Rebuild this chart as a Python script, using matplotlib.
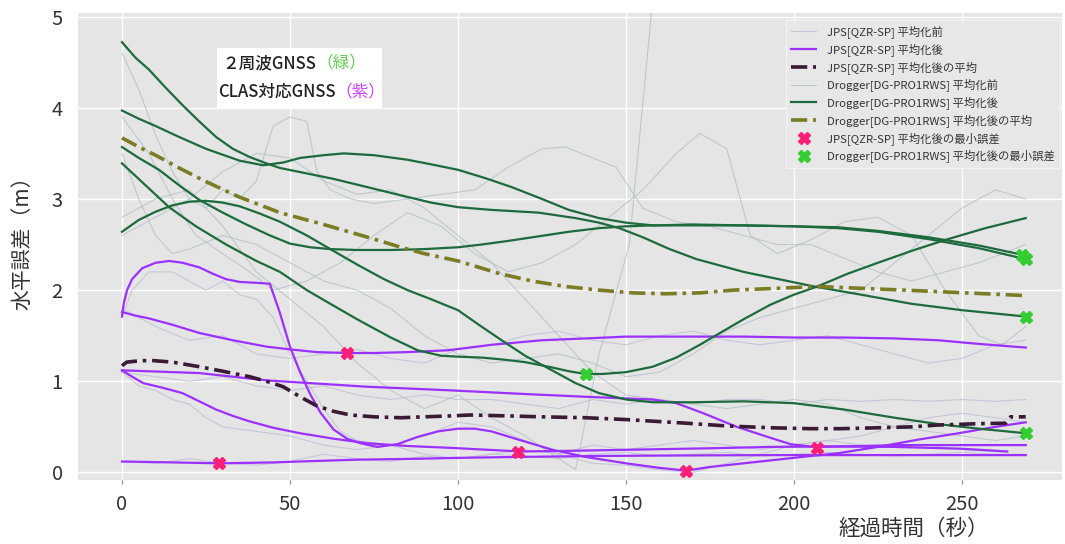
import matplotlib
matplotlib.use("Agg")
import matplotlib.pyplot as plt

# ---------------- data ----------------
# JPS[QZR-SP] raw (平均化前)
jps_raw = [
    ([0,3,8,15,20,25,30,35,40,45,50,55,60,65,70,80,90,100,110,120,130,140,150,160,170,180,190,200,210,220,230,240,250,260,269],
     [1.7,2.0,2.2,2.2,2.1,2.0,2.1,1.95,1.9,1.7,1.3,1.0,0.7,0.45,0.35,0.3,0.4,0.55,0.5,0.35,0.2,0.1,0.08,0.03,0.0,0.1,0.2,0.3,0.35,0.4,0.5,0.6,0.65,0.6,0.55]),
    ([0,10,20,30,40,50,60,70,80,90,100,110,120,130,140,150,160,170,180,190,200,210,220,230,240,250,260,269],
     [1.8,1.6,1.45,1.5,1.3,1.25,1.3,1.35,1.25,1.2,1.35,1.4,1.5,1.55,1.45,1.4,1.5,1.55,1.45,1.4,1.45,1.5,1.4,1.3,1.2,1.25,1.4,1.45]),
    ([0,10,20,30,40,50,60,70,80,90,100,110,120,130,140,150,160,170,180,190,200,210,220,230,240,250,260,269],
     [1.1,1.05,1.0,1.05,0.95,0.9,0.95,0.85,0.8,0.85,0.8,0.8,0.75,0.7,0.8,0.75,0.8,0.75,0.8,0.8,0.75,0.8,0.78,0.8,0.78,0.8,0.78,0.8]),
    ([0,5,10,15,20,25,30,40,50,60,70,80,90,100,110,120,130,140,150,160,170,180,190,200,210,220,230,240,250,263],
     [1.1,0.95,0.9,0.8,0.75,0.6,0.5,0.45,0.4,0.3,0.25,0.3,0.2,0.15,0.2,0.25,0.2,0.3,0.25,0.3,0.35,0.3,0.25,0.3,0.35,0.3,0.28,0.3,0.25,0.22]),
    ([0,10,20,30,40,50,60,70,80,90,100,110,120,130,140,150,160,170,180,190,200,210,220,230,240,250,260,269],
     [0.12,0.1,0.15,0.1,0.08,0.12,0.2,0.15,0.12,0.18,0.15,0.2,0.18,0.15,0.2,0.22,0.18,0.2,0.22,0.18,0.2,0.22,0.2,0.18,0.2,0.22,0.2,0.2]),
]

# Drogger[DG-PRO1RWS] raw (平均化前)
drg_raw = [
    ([0,5,10,15,20,25,30,35,40,45,50,55,58,62,68,75,85,95,105,115,125,132,140,147,155,165,175,185,195,205,215,225,235,245,255,262,269],
     [4.6,4.2,3.7,3.3,3.0,2.9,3.1,3.0,3.2,3.8,3.9,3.85,3.3,3.1,3.0,2.95,3.0,3.05,3.1,3.35,3.55,3.57,3.45,3.35,2.9,2.75,2.7,2.6,2.5,2.5,2.35,2.2,2.1,2.2,2.3,2.4,2.5]),
    ([0,8,15,22,30,38,45,55,65,75,85,95,105,115,125,135,145,155,165,172,180,187,195,205,215,225,235,245,255,262,269],
     [3.9,3.5,3.0,2.6,2.4,2.2,2.0,2.1,2.3,2.6,2.85,2.7,2.4,2.2,2.3,2.5,2.8,3.1,3.5,3.72,3.55,2.6,2.4,2.55,2.75,2.8,2.6,2.0,1.5,1.4,1.6]),
    ([0,10,20,30,40,50,60,70,80,90,100,110,120,130,135,142,151,158,160],
     [2.8,3.0,3.1,2.7,2.2,1.9,1.6,1.2,0.9,0.7,0.85,0.6,0.4,0.15,0.03,1.3,2.5,5.2,5.8]),
    ([0,5,10,15,20,30,40,50,60,70,80,90,100,110,120,130,140,150,160,170,180,190,200,210,220,230,240,250,260,269],
     [3.5,3.0,2.6,2.4,2.45,2.6,2.5,2.3,2.1,2.0,1.8,1.5,1.3,1.2,1.25,1.3,1.2,1.05,1.1,1.3,1.55,1.7,1.8,1.9,2.0,2.3,2.6,2.9,3.1,3.0]),
    ([0,10,20,30,40,50,60,70,80,90,100,110,120,130,140,150,160,170,180,190,200,210,220,230,240,250,260,269],
     [2.6,2.8,3.0,3.3,3.5,3.45,3.2,3.05,3.1,2.9,2.6,2.3,1.9,1.5,1.1,0.85,0.8,0.75,0.7,0.75,0.8,0.75,0.6,0.5,0.45,0.4,0.35,0.4]),
]

# JPS[QZR-SP] 平均化後
jps_x1 = [0,0.5,1.5,3,6,10,14,18,23,27,31,35,40,44,47,50,53,56,59,63,67,71,76,82,88,94,100,105,110,118,128,138,150,160,168,175,185,195,205,213,225,237,249,260,269]
jps_y1 = [1.71,1.85,2.0,2.12,2.24,2.3,2.32,2.3,2.25,2.18,2.12,2.09,2.08,2.07,1.75,1.38,1.1,0.86,0.66,0.47,0.37,0.32,0.28,0.31,0.39,0.45,0.48,0.48,0.45,0.36,0.25,0.17,0.1,0.05,0.02,0.06,0.1,0.14,0.18,0.21,0.28,0.36,0.43,0.5,0.55]
jps_x2 = [0,4,8,15,23,33,43,50,58,67,75,85,97,110,125,138,150,168,185,200,215,230,243,255,269]
jps_y2 = [1.76,1.72,1.69,1.62,1.53,1.45,1.38,1.35,1.32,1.31,1.31,1.32,1.34,1.4,1.45,1.47,1.49,1.49,1.49,1.48,1.48,1.47,1.45,1.41,1.37]
jps_x3 = [0,23,43,73,98,120,138,158,165,173,183,193,199,206,220,231,250,269]
jps_y3 = [1.12,1.09,1.01,0.94,0.90,0.86,0.83,0.80,0.76,0.65,0.5,0.38,0.31,0.28,0.29,0.30,0.30,0.30]
jps_x4 = [0,3,6.3,12,18,23,28,33,38,45,53,63,73,85,97.6,108,118.5,130,145,160,175,193,210,230,250,263.5]
jps_y4 = [1.12,1.05,0.98,0.93,0.87,0.78,0.69,0.62,0.56,0.49,0.43,0.37,0.32,0.29,0.27,0.25,0.23,0.235,0.245,0.255,0.265,0.28,0.285,0.28,0.26,0.23]
jps_x5 = [0,15,29,45,53,70,88,100,118,140,160,193,220,245,269]
jps_y5 = [0.12,0.11,0.10,0.11,0.12,0.14,0.15,0.16,0.17,0.18,0.185,0.19,0.19,0.19,0.19]

# JPS 平均化後の平均
jps_avg_x = [0,1.4,4,8.3,15,23,30,38,43,48,53,58,63,68,75,83,90,97.6,103.6,115,125,138,150,168,180,193,205,214,225,235,243,255,263,264.5,269]
jps_avg_y = [1.17,1.21,1.22,1.23,1.21,1.16,1.11,1.05,1.0,0.94,0.83,0.73,0.67,0.63,0.61,0.60,0.61,0.62,0.63,0.62,0.61,0.60,0.58,0.54,0.51,0.49,0.48,0.48,0.49,0.5,0.52,0.535,0.54,0.61,0.61]

# Drogger 平均化後
drg_xA = [0,4,8,13,18,23,28,33,38,43,47,55,63,73,83,92,100,110,124,135,142,148,155,163,171,185,206,220,235,250,269]
drg_yA = [4.72,4.55,4.42,4.22,4.03,3.85,3.68,3.55,3.46,3.39,3.34,3.28,3.22,3.13,3.04,2.96,2.91,2.88,2.85,2.79,2.74,2.68,2.58,2.45,2.34,2.2,2.04,1.95,1.85,1.78,1.71]
drg_xB = [0,5,10,17,25,35,42,48,53,60,66,75,85,92,100,108,116,125,133,142,150,158,170,185,200,213,225,240,255,269]
drg_yB = [3.97,3.88,3.8,3.68,3.55,3.42,3.37,3.4,3.45,3.48,3.5,3.48,3.43,3.38,3.32,3.23,3.13,3.0,2.88,2.79,2.74,2.71,2.71,2.71,2.7,2.69,2.65,2.58,2.49,2.38]
drg_xF = [0,5,11,17,23,30,37,44,50,56,62,70,80,90,100,107,115,124,133,142,150,158,170,185,200,213,225,240,255,269]
drg_yF = [3.57,3.45,3.32,3.15,2.99,2.85,2.72,2.6,2.51,2.47,2.45,2.44,2.44,2.45,2.47,2.5,2.54,2.59,2.64,2.68,2.70,2.71,2.72,2.71,2.7,2.68,2.64,2.56,2.46,2.34]
drg_xD = [0,7,14,22,31,40,47,55,62,70,80,88,95,100,107,113,120,127,133,138,143,150,158,165,172,178,185,193,200,207,216,225,235,245,257,269]
drg_yD = [3.39,3.15,2.91,2.7,2.5,2.32,2.2,2.0,1.85,1.68,1.48,1.34,1.28,1.27,1.26,1.24,1.21,1.16,1.11,1.08,1.08,1.1,1.16,1.26,1.4,1.53,1.68,1.84,1.95,2.04,2.18,2.3,2.43,2.55,2.68,2.79]
drg_xC = [0,5,10,15,20,25,30,35,41,47,55,62,70,78,85,92,100,107,113,120,128,135,142,150,158,170,185,200,215,230,243,255,269]
drg_yC = [2.64,2.77,2.86,2.93,2.97,2.98,2.96,2.92,2.84,2.75,2.6,2.45,2.28,2.12,2.0,1.9,1.78,1.6,1.45,1.28,1.12,0.98,0.87,0.8,0.77,0.77,0.78,0.76,0.69,0.6,0.53,0.48,0.43]

# Drogger 平均化後の平均
drg_avg_x = [0,5,10,17,25,35,47,50,60,75,83,90,100,112.5,122,132,142,152,162,172,182,195,207,220,233,245,257,269]
drg_avg_y = [3.67,3.57,3.48,3.34,3.19,3.02,2.85,2.82,2.72,2.56,2.47,2.4,2.32,2.18,2.1,2.04,2.0,1.97,1.96,1.97,2.0,2.02,2.04,2.02,2.0,1.98,1.96,1.94]

# 最小誤差
jps_min_x = [29,67,118,168,207]
jps_min_y = [0.10,1.31,0.22,0.02,0.27]
drg_min_x = [138,268,269,269,269]
drg_min_y = [1.08,2.39,2.34,1.70,0.43]

xticks = [0,50,100,150,200,250]
yticks = [0,1,2,3,4,5]

# ---------------- style ----------------
plt.rcParams['font.family'] = ['Noto Sans CJK JP', 'DejaVu Sans']

C_PURPLE = '#9b30ff'
C_GREEN = '#1d6b3c'
C_OLIVE = '#7c7c24'
C_JAVG = '#3a1a35'
C_PINK = '#ff1f78'
C_LGREEN = '#33cc33'
C_JRAW = '#bcbcd8'
C_DRAW = '#b0c0c4'

fig = plt.figure(figsize=(10.65, 5.44), dpi=100)
ax = fig.add_axes([78/1065, 1-480/544, (1062-78)/1065, (480-13)/544])
ax.set_facecolor('#e5e5e5')
for s in ax.spines.values():
    s.set_visible(False)
ax.grid(True, color='white', linewidth=1.0)
ax.set_axisbelow(True)

# raw lines
for i, (xs, ys) in enumerate(jps_raw):
    ax.plot(xs, ys, color=C_JRAW, lw=0.8, alpha=0.75, zorder=1,
            label='JPS[QZR-SP] 平均化前' if i == 0 else None)
for i, (xs, ys) in enumerate(drg_raw):
    ax.plot(xs, ys, color=C_DRAW, lw=0.8, alpha=0.75, zorder=1,
            label='Drogger[DG-PRO1RWS] 平均化前' if i == 0 else None)

# smoothed JPS
jps_lines = [(jps_x1, jps_y1), (jps_x2, jps_y2), (jps_x3, jps_y3), (jps_x4, jps_y4), (jps_x5, jps_y5)]
for i, (xs, ys) in enumerate(jps_lines):
    ax.plot(xs, ys, color=C_PURPLE, lw=1.6, zorder=3,
            label='JPS[QZR-SP] 平均化後' if i == 0 else None)

# smoothed Drogger
drg_lines = [(drg_xA, drg_yA), (drg_xB, drg_yB), (drg_xF, drg_yF), (drg_xD, drg_yD), (drg_xC, drg_yC)]
for i, (xs, ys) in enumerate(drg_lines):
    ax.plot(xs, ys, color=C_GREEN, lw=1.6, zorder=3,
            label='Drogger[DG-PRO1RWS] 平均化後' if i == 0 else None)

ax.plot(jps_avg_x, jps_avg_y, color=C_JAVG, lw=2.6, dashes=(4.5, 1.6, 1, 1.6), zorder=4,
        label='JPS[QZR-SP] 平均化後の平均')
ax.plot(drg_avg_x, drg_avg_y, color=C_OLIVE, lw=2.6, dashes=(4.5, 1.6, 1, 1.6), zorder=4,
        label='Drogger[DG-PRO1RWS] 平均化後の平均')

ax.plot(jps_min_x, jps_min_y, 'X', color=C_PINK, ms=8, mec=C_PINK, ls='none', zorder=5,
        label='JPS[QZR-SP] 平均化後の最小誤差')
ax.plot(drg_min_x, drg_min_y, 'X', color=C_LGREEN, ms=8, mec=C_LGREEN, ls='none', zorder=5,
        label='Drogger[DG-PRO1RWS] 平均化後の最小誤差')

ax.set_xlim(-13.1, 279.8)
ax.set_ylim(-0.083, 5.04)
ax.set_xticks(xticks)
ax.set_yticks(yticks)
ax.tick_params(axis='both', labelsize=14.5, colors='#333333', length=3, width=0.8, color='#888888')
ax.tick_params(axis='y', length=0, pad=11)
ax.tick_params(axis='x', pad=7)

# legend
handles, labels = ax.get_legend_handles_labels()
order = ['JPS[QZR-SP] 平均化前', 'JPS[QZR-SP] 平均化後', 'JPS[QZR-SP] 平均化後の平均',
         'Drogger[DG-PRO1RWS] 平均化前', 'Drogger[DG-PRO1RWS] 平均化後', 'Drogger[DG-PRO1RWS] 平均化後の平均',
         'JPS[QZR-SP] 平均化後の最小誤差', 'Drogger[DG-PRO1RWS] 平均化後の最小誤差']
hmap = dict(zip(labels, handles))
leg = ax.legend([hmap[l] for l in order], order, loc='upper right',
                bbox_to_anchor=(1.004, 0.998), fontsize=8.2, frameon=True,
                facecolor='#e8e8e8', edgecolor='#f4f4f4', framealpha=0.9,
                labelspacing=0.42, handlelength=2.2, handletextpad=0.9,
                borderpad=0.5, fancybox=False)
for t in leg.get_texts():
    t.set_color('#333333')

# annotation box
fig.patches.append(plt.Rectangle((217/1065, 1-108/544), 165/1065, 60/544, transform=fig.transFigure,
                                 facecolor='white', edgecolor='none', zorder=10))
t1 = fig.text(222/1065, 1-63/544, '２周波GNSS', fontsize=12, color='#222222', va='center',
              ha='left', zorder=11, fontweight='medium')
t2 = fig.text(218/1065, 1-92/544, 'CLAS対応GNSS', fontsize=12, color='#222222', va='center',
              ha='left', zorder=11, fontweight='medium')
fig.canvas.draw()
r = fig.canvas.get_renderer()
for t, txt, col in [(t1, '（緑）', '#66cc55'), (t2, '（紫）', '#cc44ff')]:
    bb = t.get_window_extent(r)
    fig.text(bb.x1 / fig.bbox.width, t.get_position()[1], txt, fontsize=12, color=col,
             va='center', ha='left', zorder=11)

# axis labels
fig.text(22/1065, 1-238/544, '水平誤差（m）', rotation=90, fontsize=15, color='#333333',
         ha='center', va='center')
fig.text(914/1065, 1-529/544, '経過時間（秒）', fontsize=15.5, color='#333333', ha='center', va='center')

fig.savefig('out.png', dpi=100)
